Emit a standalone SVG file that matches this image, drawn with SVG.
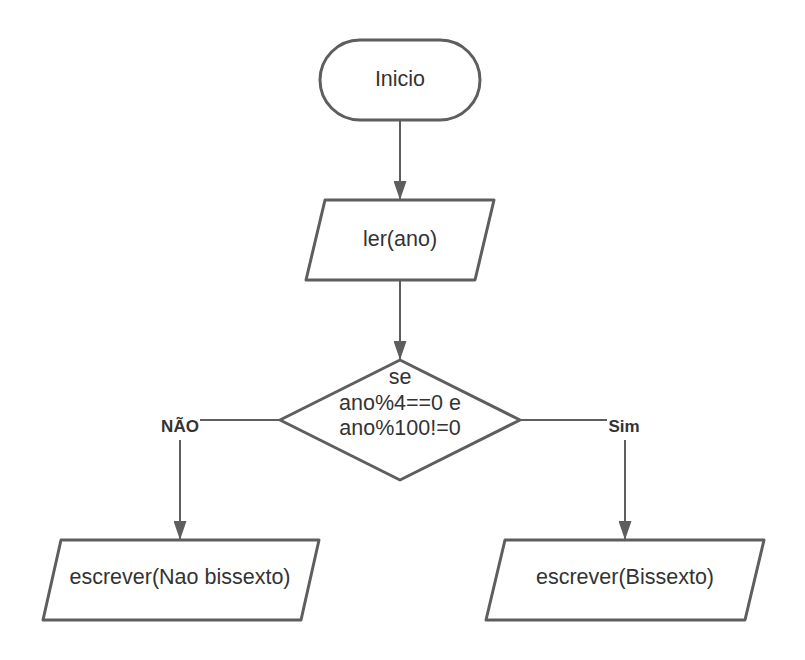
<svg xmlns="http://www.w3.org/2000/svg" width="805" height="660" viewBox="0 0 805 660">
<style>
.shape{fill:#ffffff;stroke:#5e5e5e;stroke-width:3;stroke-linejoin:round}
.conn{fill:none;stroke:#5e5e5e;stroke-width:2}
.t{font-family:"Liberation Sans",Arial,sans-serif;font-size:21.5px;fill:#333333;text-anchor:middle}
.lbl{font-family:"Liberation Sans",Arial,sans-serif;font-size:17px;font-weight:bold;fill:#333333;text-anchor:middle}
</style>
<defs>
<marker id="arrow" markerUnits="userSpaceOnUse" markerWidth="19" markerHeight="13" refX="18" refY="6.5" orient="auto" viewBox="0 0 19 13">
<path d="M0,0 L19,6.5 L0,13 Z" fill="#5e5e5e"/>
</marker>
</defs>
<rect width="805" height="660" fill="#ffffff"/>
<g id="connectors">
<path class="conn" d="M400,121 L400,199" marker-end="url(#arrow)"/>
<path class="conn" d="M400,281 L400,359" marker-end="url(#arrow)"/>
<path class="conn" d="M279,420 L200,420"/>
<path class="conn" d="M180,440 L180,539" marker-end="url(#arrow)"/>
<path class="conn" d="M521,420 L607,420"/>
<path class="conn" d="M625,440 L625,539" marker-end="url(#arrow)"/>
<text class="lbl" x="180" y="432">NÃO</text>
<text class="lbl" x="624" y="432">Sim</text>
</g>
<g id="inicio">
<rect class="shape" x="320" y="40" width="160" height="80" rx="40" ry="40"/>
<text class="t" x="400" y="86">Inicio</text>
</g>
<g id="ler">
<path class="shape" d="M325,200 L494,200 L475,280 L306,280 Z"/>
<text class="t" x="400" y="246">ler(ano)</text>
</g>
<g id="decisao">
<path class="shape" d="M400,360 L520,420 L400,480 L280,420 Z"/>
<text class="t" x="400" y="384">se</text>
<text class="t" x="400" y="410">ano%4==0 e</text>
<text class="t" x="400" y="435">ano%100!=0</text>
</g>
<g id="nao_bissexto">
<path class="shape" d="M61,540 L319,540 L301,620 L43,620 Z"/>
<text class="t" x="180" y="584">escrever(Nao bissexto)</text>
</g>
<g id="bissexto">
<path class="shape" d="M505,540 L764,540 L745,620 L486,620 Z"/>
<text class="t" x="625" y="584">escrever(Bissexto)</text>
</g>
</svg>
